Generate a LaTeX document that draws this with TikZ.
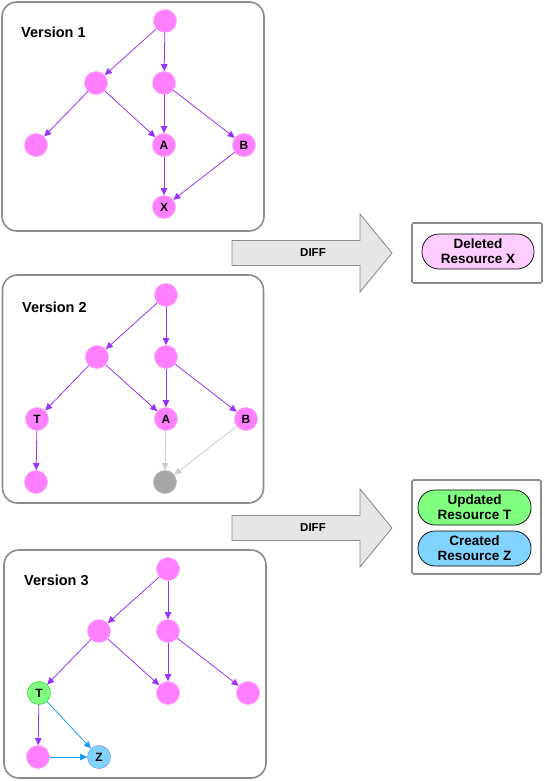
\documentclass[tikz,border=0pt]{standalone}
\usepackage{fontspec}
\setmainfont{Liberation Sans}
\usepackage{tikz}
\usetikzlibrary{arrows.meta}
\definecolor{pnk}{HTML}{FF80FF}
\definecolor{lpnk}{HTML}{FFCCFF}
\definecolor{prp}{HTML}{9933FF}
\definecolor{gry}{HTML}{A6A6A6}
\definecolor{lgr}{HTML}{CCCCCC}
\definecolor{grn}{HTML}{80FF80}
\definecolor{dgrn}{HTML}{33DD33}
\definecolor{sky}{HTML}{80D4FF}
\definecolor{zbd}{HTML}{7F99FF}
\definecolor{blu}{HTML}{1A9BFF}
\definecolor{frm}{HTML}{8C8C8C}
\definecolor{dif}{HTML}{E6E6E6}

\begin{document}
\begin{tikzpicture}[x=1pt, y=-1pt,
  vn/.style={circle, fill=pnk, draw=pnk!70!white, line width=0.6pt, minimum size=23pt,
             inner sep=0pt, font=\bfseries\fontsize{12}{12}\selectfont},
  panel/.style={draw=frm, line width=1.6pt, rounded corners=15pt},
  rbox/.style={draw=frm, line width=1.6pt, rounded corners=1.5pt},
  ttl/.style={font=\bfseries\fontsize{14.5}{15}\selectfont, anchor=base west, inner sep=0pt},
  pill/.style={draw=black, line width=0.7pt, rounded corners=17pt, minimum width=112pt,
               minimum height=35pt, align=center, inner sep=0pt,
               font=\bfseries\fontsize{13.5}{15}\selectfont},
  diff/.style={draw=frm, fill=dif, line width=0.9pt},
  dlab/.style={font=\bfseries\fontsize{11.5}{12}\selectfont, inner sep=0pt},
  arr/.style={-{Triangle[length=7pt,width=6.5pt]}, draw=prp, line width=0.8pt},
  old/.style={arr, draw=lgr},
  new/.style={arr, draw=blu}
]
\useasboundingbox (0,0) rectangle (544,781);

% version 1
\node[panel, minimum width=262pt, minimum height=229pt] (v1) at (133,116.5) {};
\node[ttl] (t1) at (21,38) {Version 1};
\node[vn] (r1) at (165,21) {};
\node[vn] (a1) at (96,83) {};
\node[vn] (b1) at (164,83) {};
\node[vn] (l1) at (36,145) {};
\node[vn] (A1) at (164,145) {A};
\node[vn] (B1) at (244,145) {B};
\node[vn] (X1) at (164,207) {X};
\draw[arr] (r1) -- (a1);
\draw[arr] (r1) -- (b1);
\draw[arr] (a1) -- (l1);
\draw[arr] (a1) -- (A1);
\draw[arr] (b1) -- (A1);
\draw[arr] (b1) -- (B1);
\draw[arr] (A1) -- (X1);
\draw[arr] (B1) -- (X1);

% version 2
\node[panel, minimum width=261pt, minimum height=228pt] (v2) at (133,389) {};
\node[ttl] (t2) at (22,312) {Version 2};
\node[vn] (r2) at (166,295) {};
\node[vn] (a2) at (97,357) {};
\node[vn] (b2) at (166,357) {};
\node[vn] (T2) at (37,419) {T};
\node[vn] (A2) at (166,419) {A};
\node[vn] (B2) at (246,419) {B};
\node[vn] (l2) at (36,482) {};
\node[vn, fill=gry, draw=gry!80!white] (g2) at (165,482) {};
\draw[arr] (r2) -- (a2);
\draw[arr] (r2) -- (b2);
\draw[arr] (a2) -- (T2);
\draw[arr] (a2) -- (A2);
\draw[arr] (b2) -- (A2);
\draw[arr] (b2) -- (B2);
\draw[arr] (T2) -- (l2);
\draw[old] (A2) -- (g2);
\draw[old] (B2) -- (g2);

% version 3
\node[panel, minimum width=262pt, minimum height=228pt] (v3) at (135,664) {};
\node[ttl] (t3) at (24,585) {Version 3};
\node[vn] (r3) at (168,569) {};
\node[vn] (a3) at (99,631) {};
\node[vn] (b3) at (168,631) {};
\node[vn, fill=grn, draw=dgrn] (T3) at (39,693) {T};
\node[vn] (m3) at (168,693) {};
\node[vn] (e3) at (248,693) {};
\node[vn] (l3) at (38,757) {};
\node[vn, fill=sky, draw=zbd] (Z3) at (99,757) {Z};
\draw[arr] (r3) -- (a3);
\draw[arr] (r3) -- (b3);
\draw[arr] (a3) -- (T3);
\draw[arr] (a3) -- (m3);
\draw[arr] (b3) -- (m3);
\draw[arr] (b3) -- (e3);
\draw[arr] (T3) -- (l3);
\draw[new] (T3) -- (Z3);
\draw[new] (l3) -- (Z3);

% diffs
\draw[diff] (232,240.5) -- (360,240.5) -- (360,214) -- (392,253) -- (360,292) -- (360,265.5) -- (232,265.5) -- cycle;
\node[dlab] (d1) at (313,253) {DIFF};
\draw[diff] (232,515.5) -- (360,515.5) -- (360,489) -- (392,528) -- (360,567) -- (360,540.5) -- (232,540.5) -- cycle;
\node[dlab] (d2) at (313,528) {DIFF};

% results
\node[rbox, minimum width=130pt, minimum height=60pt] (res1) at (477,253) {};
\node[pill, fill=lpnk] (del) at (478,251.5) {Deleted\\Resource X};
\node[rbox, minimum width=129pt, minimum height=94pt] (res2) at (476.5,527) {};
\node[pill, fill=grn, minimum width=113pt] (upd) at (474.5,507.5) {Updated\\Resource T};
\node[pill, fill=sky, minimum width=113pt] (crt) at (474.5,548.5) {Created\\Resource Z};
\end{tikzpicture}
\end{document}
